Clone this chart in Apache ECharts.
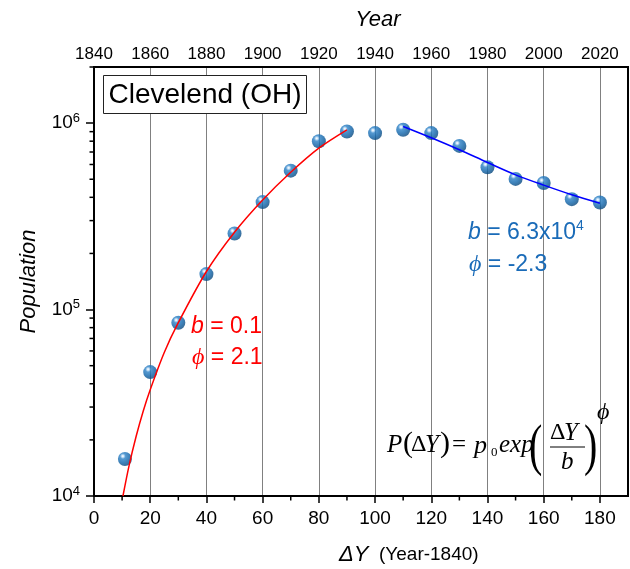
<!DOCTYPE html>
<html><head><meta charset="utf-8">
<script src="https://cdn.jsdelivr.net/npm/echarts@6/dist/echarts.min.js"></script>
<style>html,body{margin:0;padding:0;background:#fff}#c{width:630px;height:569px}</style>
</head><body><div id="c"></div>
<script>
// ---- data ----
const deltaY = [11, 20, 30, 40, 50, 60, 70, 80, 90, 100, 110, 120, 130, 140, 150, 160, 170, 180];
const population = [15800, 46200, 84900, 155000, 256000, 377000, 556000, 800000, 901000, 884000, 921000, 884000, 755000, 580000, 502000, 477000, 391000, 375000];
const fitEarlyX = [10.3, 12.5, 15, 17.5, 20, 25, 30, 40, 50, 60, 70, 80, 90];
const fitEarlyY = [10000, 14600, 20900, 28500, 37200, 58900, 85000, 160000, 260000, 387000, 545000, 734000, 920000];
const fitLateX = [110, 120, 130, 140, 150, 160, 170, 180];
const fitLateY = [960000, 835000, 720000, 615000, 528000, 465000, 413000, 372000];
const bottomTicks = [0, 20, 40, 60, 80, 100, 120, 140, 160, 180];
const bottomMinorTicks = [10, 30, 50, 70, 90, 110, 130, 150, 170];
const topTicks = [1840, 1860, 1880, 1900, 1920, 1940, 1960, 1980, 2000, 2020];
const yMajorTicks = [1e4, 1e5, 1e6];
const yMinorTicks = [2e4, 3e4, 4e4, 5e4, 6e4, 7e4, 8e4, 9e4, 2e5, 3e5, 4e5, 5e5, 6e5, 7e5, 8e5, 9e5, 2e6];

const FONT = '"Liberation Sans", Arial, Helvetica, sans-serif';
const SERIF = '"Liberation Serif", "Times New Roman", Times, serif';
const BLUE_TXT = '#1a6bb8';

const sphere = {type: 'radial', x: 0.35, y: 0.3, r: 0.8, colorStops: [
  {offset: 0, color: '#ffffff'}, {offset: 0.08, color: '#cfe6fa'},
  {offset: 0.25, color: '#2a80c6'}, {offset: 0.6, color: '#0d62a8'}, {offset: 1, color: '#063f70'}]};

function txt(x, y, text, font, fill, align, extra) {
  return Object.assign({type: 'text', x: x, y: y, z: 20, style: {
    text: text, font: font, fill: fill || '#000',
    align: align || 'left', textAlign: align || 'left',
    verticalAlign: 'middle', textVerticalAlign: 'middle'}}, extra || {});
}
function richTxt(x, y, text, rich, fill) {
  return {type: 'text', x: x, y: y, z: 20, style: {
    text: text, rich: rich, fill: fill, fontFamily: FONT,
    align: 'left', textAlign: 'left', verticalAlign: 'middle', textVerticalAlign: 'middle'}};
}

const chart = echarts.init(document.getElementById('c'));
const option = {
  animation: false,
  grid: {left: 94, right: 2, top: 67, bottom: 73, show: true, borderColor: '#000', borderWidth: 2, backgroundColor: 'transparent'},
  xAxis: [
    {type: 'value', position: 'bottom', min: 0, max: 190, interval: 20,
     axisLine: {show: true, onZero: false, lineStyle: {color: '#000', width: 2}},
     axisTick: {show: true, length: 7, customValues: bottomTicks, lineStyle: {color: '#000', width: 1.5}},
     axisLabel: {customValues: bottomTicks, fontSize: 19, color: '#000', fontFamily: FONT, margin: 13,
       formatter: v => (v > 180 ? '' : String(v))},
     splitLine: {show: true, lineStyle: {color: '#808080', width: 1}}},
    {type: 'value', position: 'top', min: 1840, max: 2030, interval: 20,
     axisLine: {show: true, onZero: false, lineStyle: {color: '#000', width: 2}},
     axisTick: {show: false},
     axisLabel: {customValues: topTicks, fontSize: 17, color: '#000', fontFamily: FONT, margin: 4,
       formatter: v => (v > 2020 ? '' : String(v))},
     splitLine: {show: false}}
  ],
  yAxis: [
    {type: 'log', logBase: 10, min: 1e4, max: 2e6,
     axisLine: {show: true, onZero: false, lineStyle: {color: '#000', width: 2}},
     axisTick: {show: true, length: 8, customValues: yMajorTicks, lineStyle: {color: '#000', width: 1.5}},
     axisLabel: {customValues: yMajorTicks, margin: 14, color: '#000', fontFamily: FONT,
       formatter: v => { const e = Math.log10(v); return Math.abs(e - Math.round(e)) < 1e-6 ? '{m|10}{s|' + Math.round(e) + '}' : ''; },
       rich: {m: {fontSize: 19, fontFamily: FONT, color: '#000'}, s: {fontSize: 13, fontFamily: FONT, color: '#000', padding: [0, 0, 10, 0]}}},
     splitLine: {show: false},
     name: 'Population', nameLocation: 'middle', nameGap: 54,
     nameTextStyle: {fontSize: 22, fontStyle: 'italic', fontFamily: FONT, color: '#000'}}
  ],
  series: [
    {type: 'scatter', name: 'data', z: 2, symbol: 'circle', symbolSize: 14,
     itemStyle: {color: sphere},
     data: deltaY.map((x, i) => [x, population[i]])},
    {type: 'line', name: 'fit1', z: 3, smooth: 0.3, symbol: 'none',
     lineStyle: {color: '#ff0000', width: 1.5},
     data: fitEarlyX.map((x, i) => [x, fitEarlyY[i]])},
    {type: 'line', name: 'fit2', z: 3, smooth: 0.3, symbol: 'none',
     lineStyle: {color: '#0000ff', width: 1.5},
     data: fitLateX.map((x, i) => [x, fitLateY[i]])},
    {type: 'custom', name: 'yMinor', silent: true, clip: false, z: 4,
     data: yMinorTicks.map(v => [0, v]),
     renderItem: (p, api) => { const c = api.coord([api.value(0), api.value(1)]);
       return {type: 'line', shape: {x1: c[0] - 4.5, y1: c[1], x2: c[0], y2: c[1]}, style: {stroke: '#000', lineWidth: 1.5}}; }},
    {type: 'custom', name: 'xMinor', silent: true, clip: false, z: 4,
     data: bottomMinorTicks.map(v => [v, 1e4]),
     renderItem: (p, api) => { const c = api.coord([api.value(0), api.value(1)]);
       return {type: 'line', shape: {x1: c[0], y1: c[1], x2: c[0], y2: c[1] + 4.5}, style: {stroke: '#000', lineWidth: 1.5}}; }}
  ],
  graphic: [
    txt(378, 20, 'Year', 'italic 22px ' + FONT, '#000', 'center'),
    {type: 'rect', z: 19, shape: {x: 103.5, y: 75.5, width: 203, height: 38}, style: {fill: '#fff', stroke: '#222', lineWidth: 1}},
    txt(205, 95, 'Clevelend (OH)', '28px ' + FONT, '#000', 'center'),
    richTxt(191, 327, '{i|b}{n| = 0.1}', {i: {fontSize: 23, fontStyle: 'italic', fontFamily: FONT, color: '#ff0000'}, n: {fontSize: 23, fontFamily: FONT, color: '#ff0000'}}, '#ff0000'),
    richTxt(192, 358, '{i|ϕ}{n| = 2.1}', {i: {fontSize: 24, fontStyle: 'italic', fontFamily: SERIF, color: '#ff0000'}, n: {fontSize: 23, fontFamily: FONT, color: '#ff0000'}}, '#ff0000'),
    richTxt(468, 233, '{i|b}{n| = 6.3x10}{s|4}', {i: {fontSize: 23, fontStyle: 'italic', fontFamily: FONT, color: BLUE_TXT}, n: {fontSize: 23, fontFamily: FONT, color: BLUE_TXT}, s: {fontSize: 14, fontFamily: FONT, color: BLUE_TXT, padding: [0, 0, 14, 0]}}, BLUE_TXT),
    richTxt(469, 265, '{i|ϕ}{n| = -2.3}', {i: {fontSize: 24, fontStyle: 'italic', fontFamily: SERIF, color: BLUE_TXT}, n: {fontSize: 23, fontFamily: FONT, color: BLUE_TXT}}, BLUE_TXT),
    richTxt(339, 555, '{a|ΔY}{b|  (Year-1840)}', {a: {fontSize: 22, fontStyle: 'italic', fontFamily: FONT, color: '#000'}, b: {fontSize: 19, fontFamily: FONT, color: '#000'}}, '#000'),
    // formula
    txt(387, 445, 'P', 'italic 25px ' + SERIF),
    txt(403, 444, '(', '30px ' + SERIF),
    txt(411, 445, 'Δ', '24px ' + SERIF),
    txt(425, 445, 'Y', 'italic 25px ' + SERIF),
    txt(440, 444, ')', '30px ' + SERIF),
    txt(452, 445, '=', '25px ' + SERIF),
    txt(474, 446, 'p', 'italic 26px ' + SERIF),
    txt(491, 453, '0', '13px ' + SERIF),
    txt(499, 445, 'exp', 'italic 25px ' + SERIF),
    txt(529, 449, '(', '40px ' + SERIF, '#000', 'left', {scaleY: 1.4}),
    txt(550, 433, 'Δ', '24px ' + SERIF),
    txt(564, 433, 'Y', 'italic 25px ' + SERIF),
    {type: 'line', z: 20, shape: {x1: 550, y1: 447, x2: 585, y2: 447}, style: {stroke: '#000', lineWidth: 1}},
    txt(561, 462, 'b', 'italic 25px ' + SERIF),
    txt(584, 449, ')', '40px ' + SERIF, '#000', 'left', {scaleY: 1.4}),
    txt(597, 413, 'ϕ', 'italic 24px ' + SERIF)
  ]
};
chart.setOption(option);
</script>
</body></html>
